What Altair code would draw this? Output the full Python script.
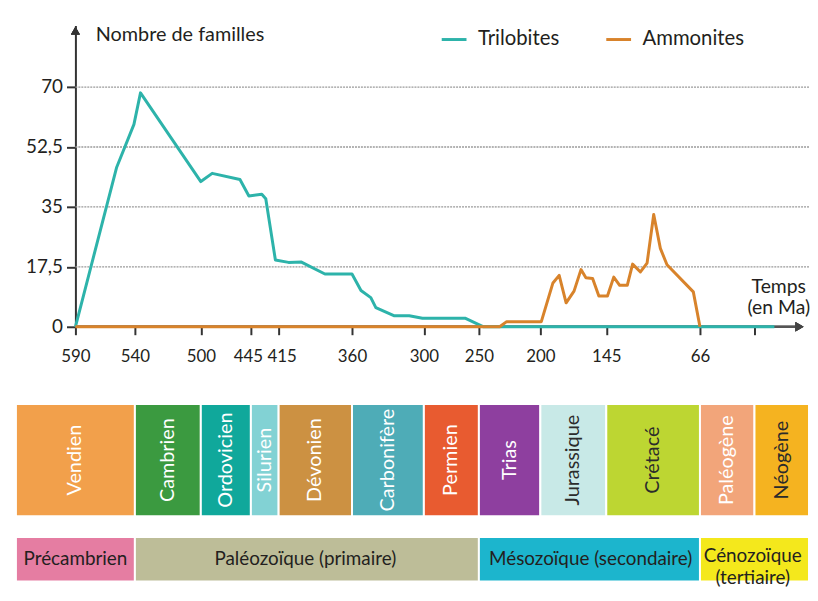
import altair as alt
import pandas as pd

# --- Courbes : nombre de familles en fonction du temps (Ma) ---
tril_ma = [590, 555.3, 540.8, 536.6, 500, 487.5, 457, 447.2, 433.2, 428.9, 418.5, 407.6,
           397.9, 380.3, 360, 352.5, 344.3, 340.1, 324.6, 312.2, 301.2, 262.6, 246.2, 14.6]
tril_val = [0, 46.6, 59.1, 68.3, 42.4, 44.8, 43.0, 38.2, 38.7, 37.4, 19.5, 18.8,
            18.9, 15.4, 15.4, 10.6, 8.5, 5.6, 3.2, 3.2, 2.5, 2.5, 0, 0]

amm_ma = [590, 233.1, 227.4, 199.2, 189.5, 184.3, 178.5, 171.9, 166.1, 162.0, 156.4, 151.2,
          144.0, 138.7, 133.7, 127.3, 122.8, 116.2, 110.6, 105.0, 99.4, 93.8, 71.6, 66]
amm_val = [0, 0, 1.5, 1.5, 12.8, 15.0, 7.0, 10.4, 16.7, 14.3, 14.1, 9.0,
           9.0, 14.5, 12.1, 12.1, 18.3, 16.0, 18.6, 32.8, 22.9, 18.1, 10.2, 0]

especes = ["Trilobites", "Ammonites"]

# --- Axes ---
graduations_x = [590, 540, 500, 445, 415, 360, 300, 250, 200, 145, 66, 23]
graduations_y = [0, 17.5, 35, 52.5, 70]

# --- Périodes et ères ---
periodes = ["Vendien", "Cambrien", "Ordovicien", "Silurien", "Dévonien", "Carbonifère",
            "Permien", "Trias", "Jurassique", "Crétacé", "Paléogène", "Néogène"]
periodes_debut = [640, 540, 500, 445, 415, 360, 300, 250, 200, 145, 66, 23]
periodes_fin = [540, 500, 445, 415, 360, 300, 250, 200, 145, 66, 23, 0]

eres = ["Précambrien", "Paléozoïque (primaire)", "Mésozoïque (secondaire)", "Cénozoïque\n(tertiaire)"]
eres_debut = [640, 540, 250, 66]
eres_fin = [540, 250, 66, 0]

# --- Styles ---
COUL_ESPECES = ["#2db3aa", "#d8832b"]
COUL_PERIODES = ["#f2a04b", "#3b9a40", "#10a89b", "#82d2d4", "#cc9142", "#4eacb7",
                 "#e85b30", "#8e3f9f", "#c8e9e7", "#bdd632", "#f2a57a", "#f5b320"]
COUL_ERES = ["#e57da2", "#bdbd98", "#1cb5cd", "#f4e81c"]
TEXTE_SOMBRE = ["Jurassique", "Crétacé", "Néogène"]
FONT = "Lato"
INK = "#231f20"

# échelle de temps non linéaire (par morceaux), comme sur la figure
X_DOMAIN = [640, 590, 540, 500, 445, 415, 360, 300, 250, 200, 145, 66, 23, 0]
X_RANGE = [0, 60, 120, 186.5, 237, 265, 339, 411.5, 467, 529, 595.5, 690, 745, 800]
xsc = alt.Scale(domain=X_DOMAIN, range=X_RANGE, nice=False, zero=False)
ysc = alt.Scale(domain=[0, 88], nice=False, zero=False)

df = pd.DataFrame({
    "ma": tril_ma + amm_ma,
    "n": tril_val + amm_val,
    "espece": [especes[0]] * len(tril_ma) + [especes[1]] * len(amm_ma),
})
df_grille = pd.DataFrame({"v": graduations_y[1:]})
df_per = pd.DataFrame({"periode": periodes, "debut": periodes_debut, "fin": periodes_fin})
df_ere = pd.DataFrame({"ere": eres, "debut": eres_debut, "fin": eres_fin})

x_axis = alt.Axis(
    values=graduations_x, domain=False, grid=False, format="d",
    labelExpr="datum.value == 23 ? '' : datum.label",
    labelOffset={"condition": [{"test": "datum.value == 445", "value": -3},
                               {"test": "datum.value == 415", "value": 3}],
                 "value": 0},
    labelOverlap=False, labelFont=FONT, labelFontSize=17,
    labelColor=INK, labelPadding=14, tickColor="#333", tickWidth=2, tickSize=8,
    title=["Temps", "(en Ma)"], titleFont=FONT, titleFontSize=19.5, titleFontWeight="normal",
    titleColor=INK, titleAlign="center", titleBaseline="alphabetic",
    titleX=769, titleY=-35, titleLineHeight=22,
)
y_axis = alt.Axis(
    values=graduations_y, offset=-60, grid=False, domain=True, domainColor="#333",
    domainWidth=2, tickColor="#333", tickWidth=2, tickSize=9, format=".1~f",
    labelExpr="replace(datum.label, '.', ',')", labelFont=FONT, labelFontSize=19,
    labelColor=INK, labelPadding=4,
    title="Nombre de familles", titleAngle=0, titleAlign="left", titleBaseline="alphabetic",
    titleX=20, titleY=15.5, titleFont=FONT, titleFontSize=20, titleFontWeight="normal",
    titleColor=INK,
)
couleur = alt.Color(
    "espece:N", scale=alt.Scale(domain=especes, range=COUL_ESPECES),
    legend=alt.Legend(
        orient="none", legendX=428, legendY=0, direction="horizontal", title=None,
        symbolType="stroke", symbolSize=625, symbolStrokeWidth=3, labelFont=FONT,
        labelFontSize=20.5, labelColor=INK, labelOffset=10, columnPadding=40,
    ),
)

grille = alt.Chart(df_grille).mark_rule(color="#9a9a9a", strokeWidth=1.3, strokeDash=[2, 1]).encode(
    x=alt.XDatum(590, type="quantitative", scale=xsc, axis=x_axis),
    x2=alt.X2Datum(0),
    y=alt.Y("v:Q", scale=ysc, axis=y_axis),
)
axe_x = alt.Chart(df_grille).mark_rule(color="#555", strokeWidth=2).encode(
    x=alt.XDatum(590, type="quantitative", scale=xsc, axis=x_axis),
    x2=alt.X2Datum(4),
    y=alt.YDatum(0, type="quantitative", scale=ysc, axis=y_axis),
)
fleche_x = alt.Chart(df_grille).mark_point(shape="triangle-right", filled=True, size=90,
                                           color="#444", opacity=1).encode(
    x=alt.XDatum(4, type="quantitative", scale=xsc, axis=x_axis),
    y=alt.YDatum(0, type="quantitative", scale=ysc, axis=y_axis),
)
fleche_y = alt.Chart(df_grille).mark_point(shape="triangle-up", filled=True, size=80,
                                           color="#333", opacity=1).encode(
    x=alt.XDatum(590, type="quantitative", scale=xsc, axis=x_axis),
    y=alt.YDatum(86.5, type="quantitative", scale=ysc, axis=y_axis),
)

ligne = alt.Chart(df).mark_line(strokeWidth=3, strokeJoin="round")
l_tril = ligne.transform_filter(alt.datum.espece == especes[0]).encode(
    x=alt.X("ma:Q", scale=xsc, axis=x_axis),
    y=alt.Y("n:Q", scale=ysc, axis=y_axis),
    color=couleur,
)
l_amm = ligne.transform_filter(alt.datum.espece == especes[1]).encode(
    x=alt.X("ma:Q", scale=xsc, axis=x_axis),
    y=alt.Y("n:Q", scale=ysc, axis=y_axis),
    color=couleur,
)

principal = alt.layer(grille, axe_x, fleche_x, l_tril, l_amm, fleche_y)

# --- bandeau des périodes ---
y_per = alt.Y("rang:N", scale=alt.Scale(type="band", domain=["période"], range=[382, 495],
                                        paddingInner=0, paddingOuter=0), axis=None)
base_per = alt.Chart(df_per).transform_calculate(rang="'période'", milieu="(datum.debut + datum.fin) / 2")
rect_per = base_per.mark_rect(stroke="white", strokeWidth=2).encode(
    x=alt.X("debut:Q", scale=xsc, axis=x_axis),
    x2="fin:Q",
    y=y_per,
    color=alt.Color("periode:N", scale=alt.Scale(domain=periodes, range=COUL_PERIODES), legend=None),
)
texte_per = base_per.mark_text(angle=270, font=FONT, fontSize=20, align="center", baseline="middle").encode(
    x=alt.X("milieu:Q", scale=xsc, axis=x_axis),
    y=y_per,
    text="periode:N",
    color=alt.condition(alt.FieldOneOfPredicate(field="periode", oneOf=TEXTE_SOMBRE),
                        alt.value("#2b2b2b"), alt.value("white")),
)
bandeau_per = alt.layer(rect_per, texte_per)

# --- bandeau des ères ---
y_ere = alt.Y("rang:N", scale=alt.Scale(type="band", domain=["ère"], range=[516, 561],
                                        paddingInner=0, paddingOuter=0), axis=None)
base_ere = alt.Chart(df_ere).transform_calculate(rang="'ère'", milieu="(datum.debut + datum.fin) / 2")
rect_ere = base_ere.mark_rect(stroke="white", strokeWidth=2).encode(
    x=alt.X("debut:Q", scale=xsc, axis=x_axis),
    x2="fin:Q",
    y=y_ere,
    color=alt.Color("ere:N", scale=alt.Scale(domain=eres, range=COUL_ERES), legend=None),
)
texte_ere = base_ere.transform_filter(alt.datum.debut > 66).mark_text(
    font=FONT, fontSize=19, color=INK, align="center", baseline="middle").encode(
    x=alt.X("milieu:Q", scale=xsc, axis=x_axis),
    y=y_ere,
    text="ere:N",
)
texte_ceno = base_ere.transform_filter(alt.datum.debut <= 66).mark_text(
    font=FONT, fontSize=19, color=INK, align="center", baseline="middle",
    lineBreak="\n", lineHeight=22, dx=11, dy=-3).encode(
    x=alt.X("milieu:Q", scale=xsc, axis=x_axis),
    y=y_ere,
    text="ere:N",
)
bandeau_ere = alt.layer(rect_ere, texte_ere, texte_ceno)

chart = (
    alt.layer(principal, bandeau_per, bandeau_ere)
    .resolve_scale(y="independent", color="independent")
    .properties(width=800, height=304,
                padding={"left": 7, "top": 14, "right": 0, "bottom": 4})
    .configure(background="white", font=FONT)
    .configure_view(stroke=None)
    .configure_axis(labelFont=FONT, titleFont=FONT)
    .configure_axisX(labelFont=FONT, labelFontSize=17)
    .configure_axisY(labelFont=FONT, labelFontSize=19)
)

chart.save("out.html", embed_options={"renderer": "svg", "actions": False})
